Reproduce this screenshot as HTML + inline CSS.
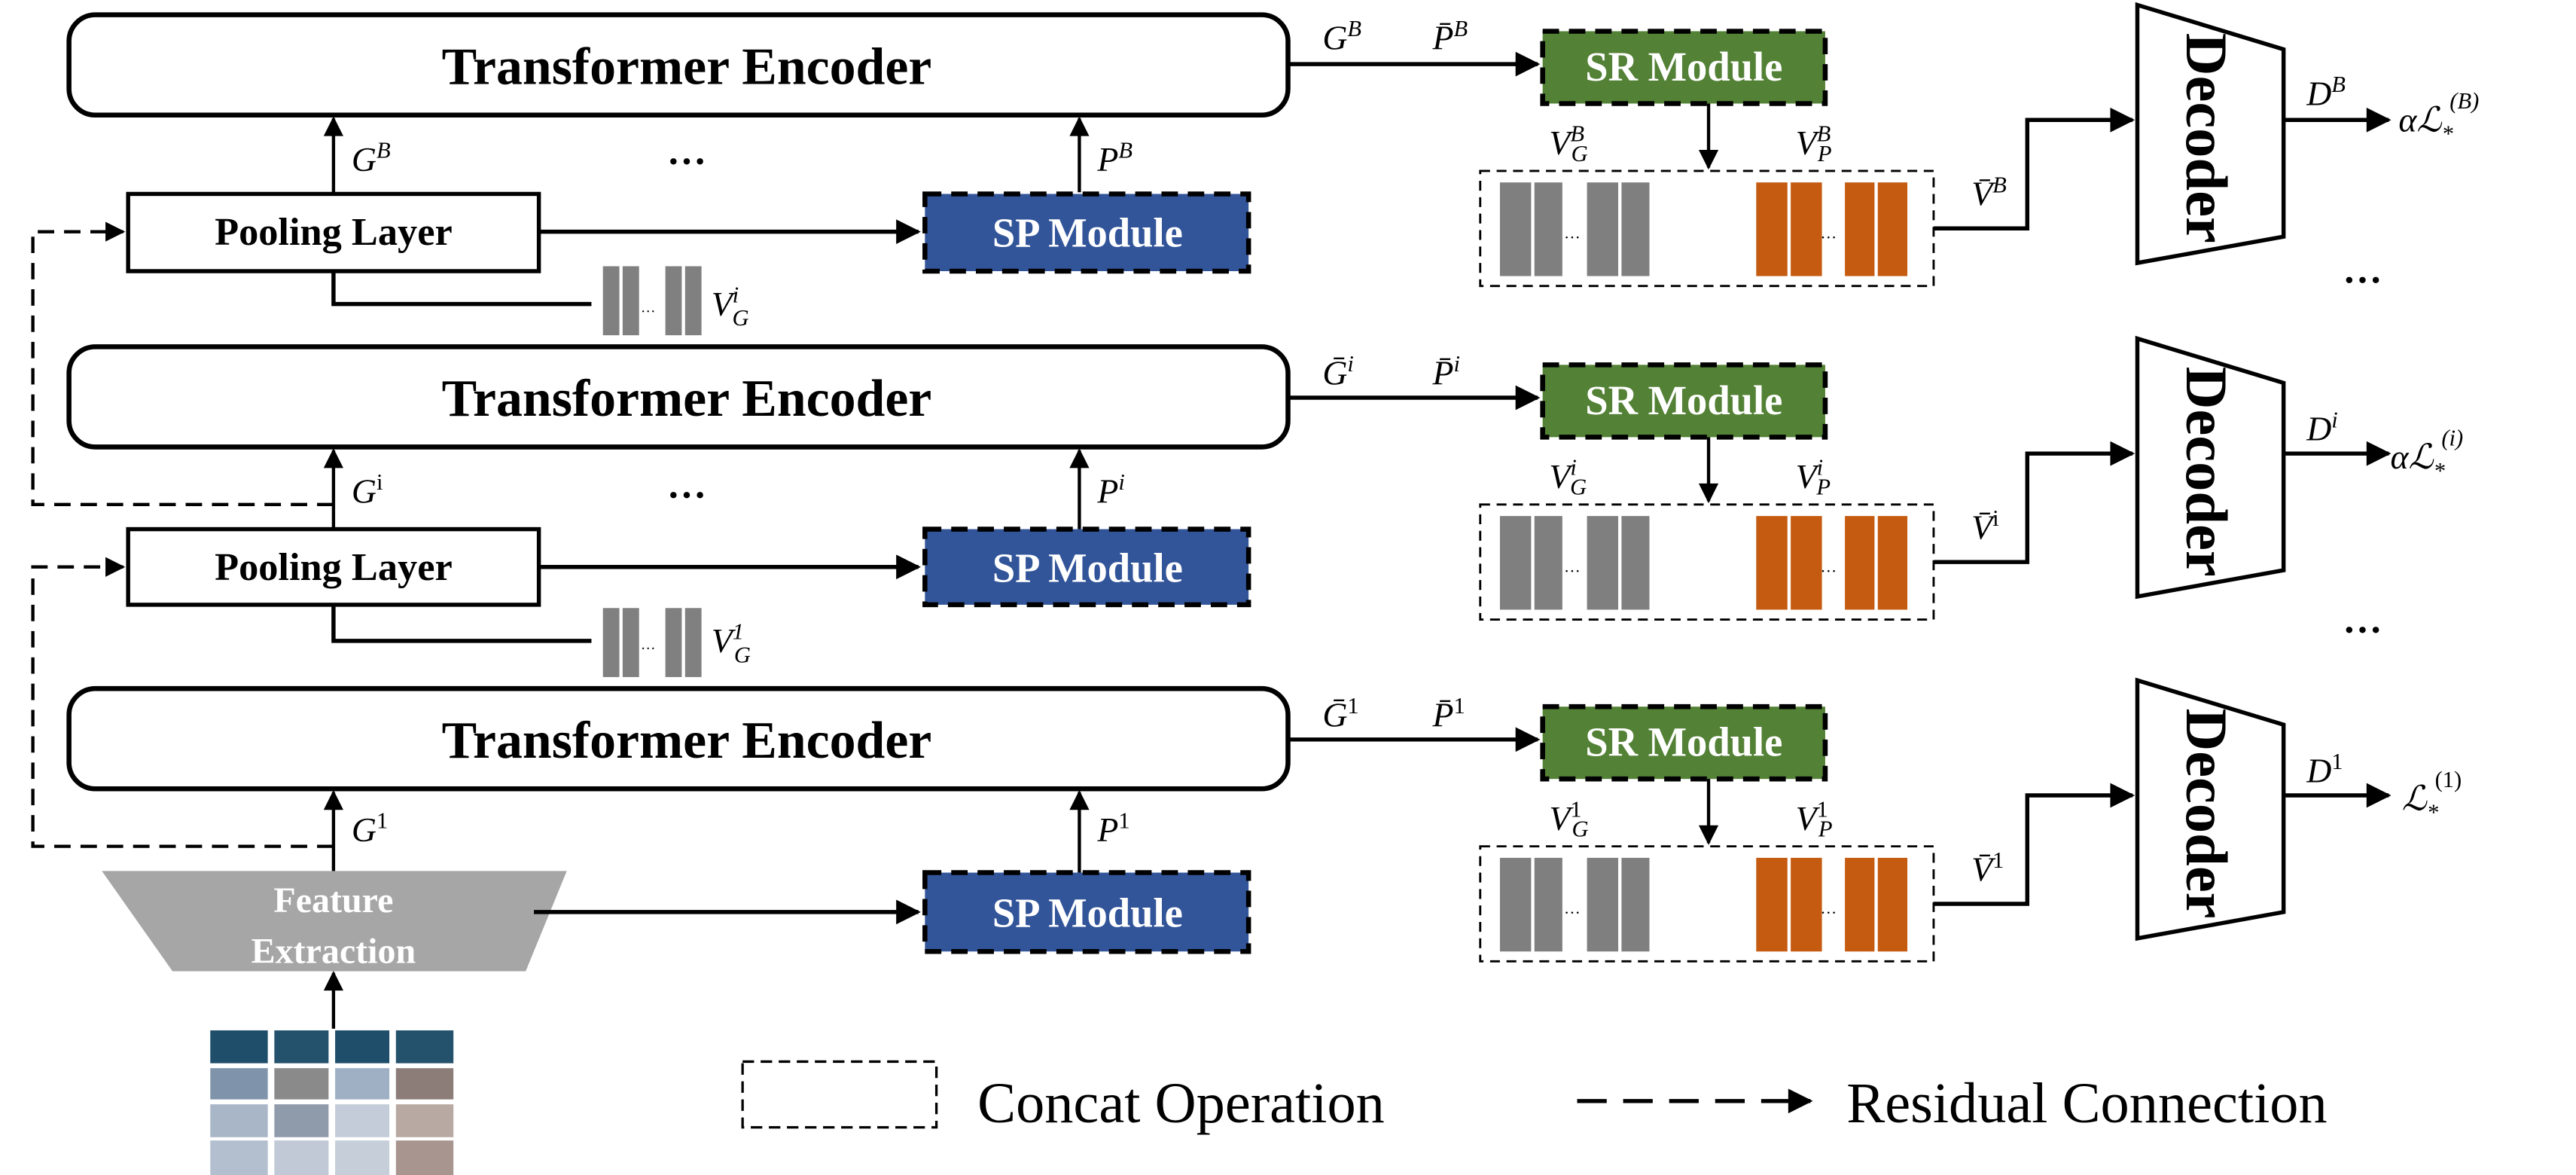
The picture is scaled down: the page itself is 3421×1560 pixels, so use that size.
<!DOCTYPE html>
<html><head><meta charset="utf-8"><style>
html,body{margin:0;padding:0;background:#fff;}
svg{display:block;}
.t{font-family:"Liberation Serif",serif;font-weight:bold;}
.m{font-family:"Liberation Serif",serif;font-style:italic;font-size:21px;}
.s{font-size:14px;}
</style></head><body>
<svg width="3421" height="1560" viewBox="0 0 1568 715" xmlns="http://www.w3.org/2000/svg">
<defs>
<marker id="a" viewBox="0 0 10 10" refX="9" refY="5" markerWidth="6.5" markerHeight="6" orient="auto" markerUnits="strokeWidth"><path d="M0,0 L10,5 L0,10 z" fill="#000"/></marker>
<g id="right">
<line x1="784" y1="39" x2="936" y2="39" stroke="#000" stroke-width="2.5" marker-end="url(#a)"/>
<rect x="939" y="19" width="172" height="44" fill="#538135" stroke="#000" stroke-width="3" stroke-dasharray="10,6"/>
<text x="1025" y="49" text-anchor="middle" class="t" fill="#fff" font-size="25">SR Module</text>
<line x1="1040" y1="63" x2="1040" y2="102" stroke="#000" stroke-width="2" marker-end="url(#a)"/>
<rect x="901" y="104" width="276" height="70" fill="none" stroke="#000" stroke-width="1.3" stroke-dasharray="6,4"/>
<rect x="913" y="111" width="19" height="57" fill="#7f7f7f"/><rect x="934" y="111" width="17" height="57" fill="#7f7f7f"/>
<rect x="966" y="111" width="19" height="57" fill="#7f7f7f"/><rect x="987" y="111" width="17" height="57" fill="#7f7f7f"/>
<text x="952" y="145" font-size="10" font-family="Liberation Serif">…</text>
<rect x="1069" y="111" width="19" height="57" fill="#c55a11"/><rect x="1090" y="111" width="19" height="57" fill="#c55a11"/>
<rect x="1123" y="111" width="18" height="57" fill="#c55a11"/><rect x="1143" y="111" width="18" height="57" fill="#c55a11"/>
<text x="1108" y="145" font-size="10" font-family="Liberation Serif">…</text>
<polyline points="1177,139 1234,139 1234,73 1298,73" fill="none" stroke="#000" stroke-width="2.5" marker-end="url(#a)"/>
<polygon points="1301,3 1390,30 1390,144 1301,160" fill="#fff" stroke="#000" stroke-width="2.5"/>
<text transform="translate(1331,84) rotate(90)" text-anchor="middle" class="t" font-size="36">Decoder</text>
<line x1="1390" y1="73" x2="1454" y2="73" stroke="#000" stroke-width="2.5" marker-end="url(#a)"/>
</g>
</defs>

<rect x="42" y="9" width="742" height="61" rx="16" fill="#fff" stroke="#000" stroke-width="3"/>
<text x="418" y="51" text-anchor="middle" class="t" font-size="32">Transformer Encoder</text>
<rect x="42" y="211" width="742" height="61" rx="16" fill="#fff" stroke="#000" stroke-width="3"/>
<text x="418" y="253" text-anchor="middle" class="t" font-size="32">Transformer Encoder</text>
<rect x="42" y="419" width="742" height="61" rx="16" fill="#fff" stroke="#000" stroke-width="3"/>
<text x="418" y="461" text-anchor="middle" class="t" font-size="32">Transformer Encoder</text>

<line x1="203" y1="118" x2="203" y2="72" stroke="#000" stroke-width="2" marker-end="url(#a)"/>
<text x="214" y="104" class="m">G<tspan class="s" dy="-8">B</tspan></text>
<line x1="657" y1="117" x2="657" y2="72" stroke="#000" stroke-width="2" marker-end="url(#a)"/>
<text x="668" y="104" class="m">P<tspan class="s" dy="-8">B</tspan></text>
<text x="418" y="100" text-anchor="middle" class="t" font-size="24">…</text>
<rect x="78" y="118" width="250" height="47" fill="#fff" stroke="#000" stroke-width="2.5"/>
<text x="203" y="149" text-anchor="middle" class="t" font-size="24">Pooling Layer</text>
<line x1="328" y1="141" x2="559" y2="141" stroke="#000" stroke-width="2.5" marker-end="url(#a)"/>
<rect x="563" y="118" width="197" height="47" fill="#32559a" stroke="#000" stroke-width="3" stroke-dasharray="10,6"/>
<text x="662" y="150" text-anchor="middle" class="t" fill="#fff" font-size="25">SP Module</text>
<polyline points="203,165 203,185 360,185" fill="none" stroke="#000" stroke-width="2.5"/>
<rect x="367" y="162" width="10" height="42" fill="#808080"/><rect x="379" y="162" width="10" height="42" fill="#808080"/>
<rect x="405" y="162" width="10" height="42" fill="#808080"/><rect x="417" y="162" width="10" height="42" fill="#808080"/>
<text x="390" y="190" font-size="9" font-family="Liberation Serif">…</text>
<text x="433" y="192" class="m">V<tspan class="s" dy="-8">i</tspan><tspan class="s" dx="-4" dy="14">G</tspan></text>
<path d="M203,307 L20,307 L20,141 L75,141" fill="none" stroke="#000" stroke-width="2" stroke-dasharray="10,6" marker-end="url(#a)"/>

<line x1="203" y1="322" x2="203" y2="274" stroke="#000" stroke-width="2" marker-end="url(#a)"/>
<text x="214" y="306" class="m">G<tspan class="s" dy="-8" font-style="normal">i</tspan></text>
<line x1="657" y1="322" x2="657" y2="274" stroke="#000" stroke-width="2" marker-end="url(#a)"/>
<text x="668" y="306" class="m">P<tspan class="s" dy="-8">i</tspan></text>
<text x="418" y="303" text-anchor="middle" class="t" font-size="24">…</text>
<rect x="78" y="322" width="250" height="46" fill="#fff" stroke="#000" stroke-width="2.5"/>
<text x="203" y="353" text-anchor="middle" class="t" font-size="24">Pooling Layer</text>
<line x1="328" y1="345" x2="559" y2="345" stroke="#000" stroke-width="2.5" marker-end="url(#a)"/>
<rect x="563" y="322" width="197" height="46" fill="#32559a" stroke="#000" stroke-width="3" stroke-dasharray="10,6"/>
<text x="662" y="354" text-anchor="middle" class="t" fill="#fff" font-size="25">SP Module</text>
<polyline points="203,368 203,390 360,390" fill="none" stroke="#000" stroke-width="2.5"/>
<rect x="367" y="370" width="10" height="42" fill="#808080"/><rect x="379" y="370" width="10" height="42" fill="#808080"/>
<rect x="405" y="370" width="10" height="42" fill="#808080"/><rect x="417" y="370" width="10" height="42" fill="#808080"/>
<text x="390" y="395" font-size="9" font-family="Liberation Serif">…</text>
<text x="433" y="397" class="m">V<tspan class="s" dy="-8">1</tspan><tspan class="s" dx="-6" dy="14">G</tspan></text>
<path d="M203,515 L20,515 L20,345 L75,345" fill="none" stroke="#000" stroke-width="2" stroke-dasharray="10,6" marker-end="url(#a)"/>

<line x1="203" y1="531" x2="203" y2="482" stroke="#000" stroke-width="2" marker-end="url(#a)"/>
<text x="214" y="512" class="m">G<tspan class="s" dy="-8" font-style="normal">1</tspan></text>
<line x1="657" y1="531" x2="657" y2="482" stroke="#000" stroke-width="2" marker-end="url(#a)"/>
<text x="668" y="512" class="m">P<tspan class="s" dy="-8" font-style="normal">1</tspan></text>
<polygon points="62,530 345,530 320,591 105,591" fill="#a6a6a6"/>
<text x="203" y="555" text-anchor="middle" class="t" fill="#fff" font-size="22">Feature</text>
<text x="203" y="586" text-anchor="middle" class="t" fill="#fff" font-size="22">Extraction</text>
<line x1="325" y1="555" x2="559" y2="555" stroke="#000" stroke-width="2.5" marker-end="url(#a)"/>
<rect x="563" y="531" width="197" height="48" fill="#32559a" stroke="#000" stroke-width="3" stroke-dasharray="10,6"/>
<text x="662" y="564" text-anchor="middle" class="t" fill="#fff" font-size="25">SP Module</text>
<line x1="203" y1="626" x2="203" y2="592" stroke="#000" stroke-width="2" marker-end="url(#a)"/>

<g>
<rect x="128" y="627" width="35" height="20" fill="#1f4e6a"/><rect x="167" y="627" width="33" height="20" fill="#24516b"/><rect x="204" y="627" width="33" height="20" fill="#1f4e6a"/><rect x="241" y="627" width="35" height="20" fill="#24516b"/>
<rect x="128" y="650" width="35" height="19" fill="#7f94aa"/><rect x="167" y="650" width="33" height="19" fill="#8a8a8a"/><rect x="204" y="650" width="33" height="19" fill="#9fb0c4"/><rect x="241" y="650" width="35" height="19" fill="#8c7d78"/>
<rect x="128" y="672" width="35" height="20" fill="#a8b6c7"/><rect x="167" y="672" width="33" height="20" fill="#8f9aaa"/><rect x="204" y="672" width="33" height="20" fill="#c3ccd8"/><rect x="241" y="672" width="35" height="20" fill="#b8a9a3"/>
<rect x="128" y="694" width="35" height="21" fill="#b3bfce"/><rect x="167" y="694" width="33" height="21" fill="#c0c9d5"/><rect x="204" y="694" width="33" height="21" fill="#c5ced9"/><rect x="241" y="694" width="35" height="21" fill="#a89590"/>
</g>

<use href="#right"/>
<text x="805" y="30" class="m">G<tspan class="s" dy="-8">B</tspan></text>
<text x="872" y="30" class="m">P̄<tspan class="s" dy="-8">B</tspan></text>
<text x="943" y="94" class="m">V<tspan class="s" dy="-8">B</tspan><tspan class="s" dx="-8" dy="12">G</tspan></text>
<text x="1093" y="94" class="m">V<tspan class="s" dy="-8">B</tspan><tspan class="s" dx="-8" dy="12">P</tspan></text>
<text x="1200" y="125" class="m">V̄<tspan class="s" dy="-8">B</tspan></text>
<text x="1404" y="64" class="m">D<tspan class="s" dy="-8">B</tspan></text>
<text x="1460" y="80" class="m" font-size="22">αℒ<tspan class="s" dy="6">*</tspan><tspan class="s" dy="-20" dx="-2">(B)</tspan></text>
<text x="1438" y="172" text-anchor="middle" class="t" font-size="24">…</text>

<use href="#right" y="203"/>
<text x="805" y="234" class="m">Ḡ<tspan class="s" dy="-8">i</tspan></text>
<text x="872" y="234" class="m">P̄<tspan class="s" dy="-8">i</tspan></text>
<text x="943" y="297" class="m">V<tspan class="s" dy="-8">i</tspan><tspan class="s" dx="-4" dy="12">G</tspan></text>
<text x="1093" y="297" class="m">V<tspan class="s" dy="-8">i</tspan><tspan class="s" dx="-4" dy="12">P</tspan></text>
<text x="1200" y="328" class="m">V̄<tspan class="s" dy="-8" font-style="normal">i</tspan></text>
<text x="1404" y="268" class="m">D<tspan class="s" dy="-8">i</tspan></text>
<text x="1455" y="285" class="m" font-size="22">αℒ<tspan class="s" dy="6">*</tspan><tspan class="s" dy="-20" dx="-2">(i)</tspan></text>
<text x="1438" y="385" text-anchor="middle" class="t" font-size="24">…</text>

<use href="#right" y="411"/>
<text x="805" y="442" class="m">Ḡ<tspan class="s" dy="-8" font-style="normal">1</tspan></text>
<text x="872" y="442" class="m">P̄<tspan class="s" dy="-8" font-style="normal">1</tspan></text>
<text x="943" y="505" class="m">V<tspan class="s" dy="-8" font-style="normal">1</tspan><tspan class="s" dx="-6" dy="12">G</tspan></text>
<text x="1093" y="505" class="m">V<tspan class="s" dy="-8" font-style="normal">1</tspan><tspan class="s" dx="-6" dy="12">P</tspan></text>
<text x="1200" y="536" class="m">V̄<tspan class="s" dy="-8" font-style="normal">1</tspan></text>
<text x="1404" y="476" class="m">D<tspan class="s" dy="-8" font-style="normal">1</tspan></text>
<text x="1462" y="493" class="m" font-size="22">ℒ<tspan class="s" dy="6">*</tspan><tspan class="s" dy="-20" dx="-2" font-style="normal">(1)</tspan></text>

<rect x="452" y="646" width="118" height="40" fill="none" stroke="#000" stroke-width="1.5" stroke-dasharray="7,4"/>
<text x="595" y="683" font-family="Liberation Serif,serif" font-size="35">Concat Operation</text>
<line x1="960" y1="670" x2="1102" y2="670" stroke="#000" stroke-width="2.5" stroke-dasharray="18,10" marker-end="url(#a)"/>
<text x="1124" y="683" font-family="Liberation Serif,serif" font-size="35">Residual Connection</text>
</svg>
</body></html>
